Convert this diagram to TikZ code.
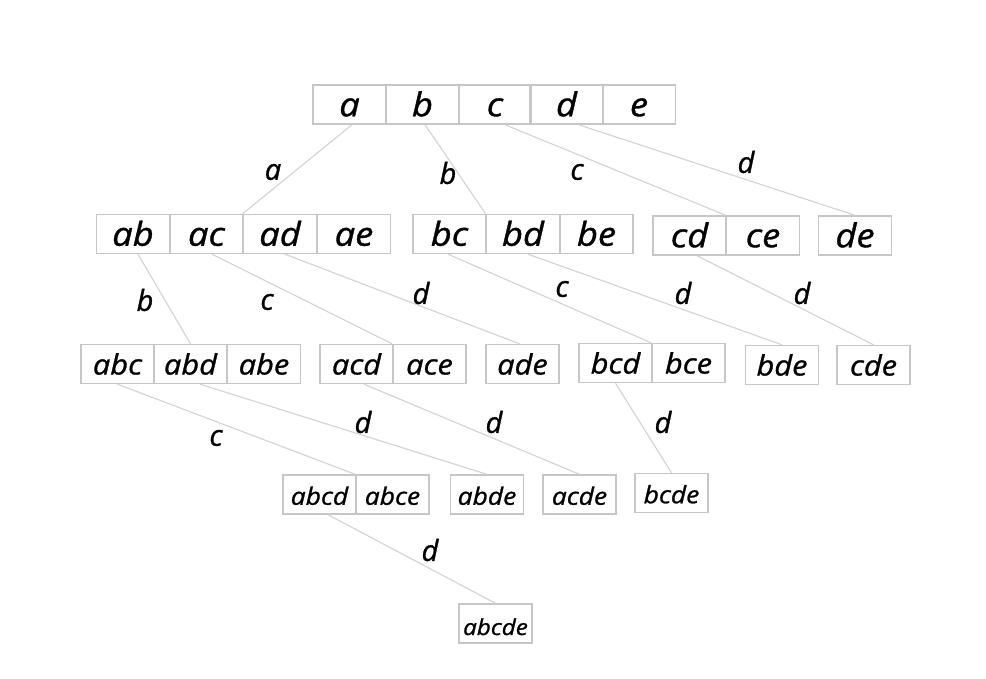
\documentclass[tikz,border=0pt]{standalone}
\usepackage{fontspec}
\setmainfont{Open Sans}
\newfontfamily\boxfont[FakeStretch=1.1,FakeBold=1]{Open Sans}
\newfontfamily\labfont[FakeBold=1]{Open Sans}
\definecolor{boxgray}{HTML}{C6C6C6}
\definecolor{edgegray}{HTML}{D2D2D2}
\begin{document}
\begin{tikzpicture}[x=1pt,y=-1pt,
  cell/.style={draw=boxgray, line width=1.4pt, minimum width=73.3pt, minimum height=39pt,
    inner sep=0pt, text depth=0pt},
  rowA/.style={cell, font=\boxfont\itshape\fontsize{33}{35}\selectfont, text height=23.5pt},
  rowC/.style={cell, font=\boxfont\itshape\fontsize{28}{30}\selectfont, text height=21pt},
  rowD/.style={cell, font=\boxfont\itshape\fontsize{24}{26}\selectfont, text height=20.5pt},
  rowE/.style={cell, font=\boxfont\itshape\fontsize{22}{24}\selectfont, text height=23pt},
  edge/.style={draw=edgegray, line width=1.1pt},
  lab/.style={font=\labfont\itshape\fontsize{29}{31}\selectfont, inner sep=0pt}]
\useasboundingbox[fill=white] (0,0) rectangle (986,678);
% row 1
\node[rowA] (a) at (349.5,104.5) {a};
\node[rowA] (b) at (422.5,104.5) {b};
\node[rowA] (c) at (495,104.5) {c};
\node[rowA] (d) at (566.5,104.5) {d};
\node[rowA] (e) at (639,104.5) {e};
% row 2
\node[rowA] (ab) at (133,234) {ab};
\node[rowA] (ac) at (206.5,234) {ac};
\node[rowA] (ad) at (280,234) {ad};
\node[rowA] (ae) at (354,234) {ae};
\node[rowA] (bc) at (449.5,234) {bc};
\node[rowA] (bd) at (523,234) {bd};
\node[rowA] (be) at (596.5,234) {be};
\node[rowA] (cd) at (689.5,235.5) {cd};
\node[rowA] (ce) at (763,235.5) {ce};
\node[rowA] (de) at (855,235.5) {de};
% row 3
\node[rowC] (abc) at (117.5,364) {abc};
\node[rowC] (abd) at (190.5,364) {abd};
\node[rowC] (abe) at (264,364) {abe};
\node[rowC] (acd) at (356.5,364) {acd};
\node[rowC] (ace) at (429.5,364) {ace};
\node[rowC] (ade) at (522.5,364) {ade};
\node[rowC] (bcd) at (615.5,363) {bcd};
\node[rowC] (bce) at (688.5,363) {bce};
\node[rowC] (bde) at (782,365) {bde};
\node[rowC] (cde) at (873.5,365) {cde};
% row 4
\node[rowD] (abcd) at (319.5,494.5) {abcd};
\node[rowD] (abce) at (392.5,494.5) {abce};
\node[rowD] (abde) at (487,494.5) {abde};
\node[rowD] (acde) at (579.5,494.5) {acde};
\node[rowD] (bcde) at (671.5,493) {bcde};
% row 5
\node[rowE] (abcde) at (495.5,623.5) {abcde};
% edges
\draw[edge] ([xshift=2.5pt]a.south) -- (ad.north west);
\draw[edge] ([xshift=2.5pt]b.south) -- (bd.north west);
\draw[edge] ([xshift=10pt]c.south) -- (ce.north west);
\draw[edge] ([xshift=12pt]d.south) -- (de.north);
\draw[edge] ([xshift=5pt]ab.south) -- (abd.north);
\draw[edge] ([xshift=5.5pt]ac.south) -- (ace.north west);
\draw[edge] ([xshift=5pt]ad.south) -- ([xshift=-3pt]ade.north);
\draw[edge] ([xshift=-1.5pt]bc.south) -- (bce.north west);
\draw[edge] ([xshift=5pt]bd.south) -- (bde.north);
\draw[edge] ([xshift=7.5pt]cd.south) -- (cde.north);
\draw[edge] (abc.south) -- (abce.north west);
\draw[edge] ([xshift=9.5pt]abd.south) -- (abde.north);
\draw[edge] ([xshift=7.5pt]acd.south) -- (acde.north);
\draw[edge] (bcd.south) -- (bcde.north);
\draw[edge] ([xshift=8.5pt]abcd.south) -- (abcde.north);
% labels
\node[lab] (la) at (273,172) {a};
\node[lab] (lb) at (448,173) {b};
\node[lab] (lc) at (577,172) {c};
\node[lab] (ld) at (746,162) {d};
\node[lab] (lab1) at (145,300) {b};
\node[lab] (lac) at (267,302) {c};
\node[lab] (lad) at (421,293) {d};
\node[lab] (lbc) at (562,289) {c};
\node[lab] (lbd) at (683,293) {d};
\node[lab] (lcd) at (802,293) {d};
\node[lab] (labc) at (216,438) {c};
\node[lab] (labd) at (363,422) {d};
\node[lab] (lacd) at (494,422) {d};
\node[lab] (lbcd) at (663,422) {d};
\node[lab] (labcd) at (430,550) {d};
\end{tikzpicture}
\end{document}
